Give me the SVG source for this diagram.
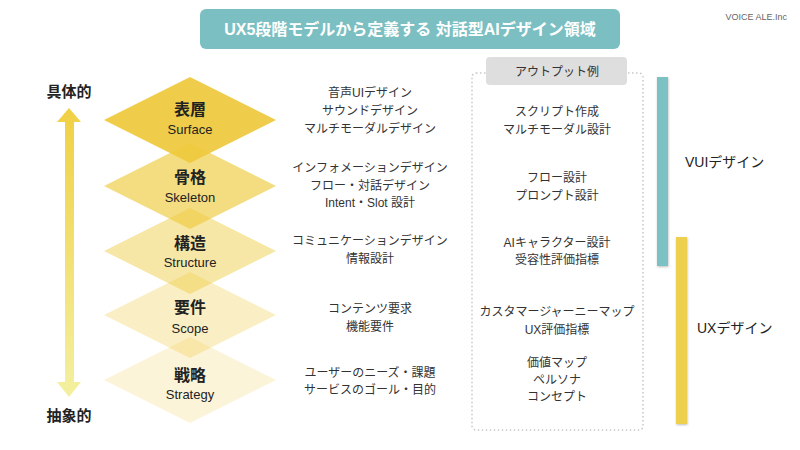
<svg xmlns="http://www.w3.org/2000/svg" width="800" height="450" viewBox="0 0 800 450">
<style>
text{font-family:"Liberation Sans","Noto Sans CJK JP",sans-serif;dominant-baseline:central;text-anchor:middle;fill:#222}
.title{font-size:16px;font-weight:bold;fill:#fff}
.lvl{font-size:16px;font-weight:bold}
.sub{font-size:13px;fill:#222}
.mid{font-size:12px;fill:#333}
.axis{font-size:15px;font-weight:bold}
.side{font-size:14px;text-anchor:start}
.dia{fill:#eec93c}
</style>
<defs>
<linearGradient id="ag" x1="0" y1="0" x2="0" y2="1">
<stop offset="0" stop-color="#f0d044"/>
<stop offset="1" stop-color="#f4f0a0"/>
</linearGradient>
<filter id="sh" x="-50%" y="-5%" width="200%" height="110%">
<feDropShadow dx="0.5" dy="1" stdDeviation="0.8" flood-color="#000" flood-opacity="0.25"/>
</filter>
</defs>
<rect width="800" height="450" fill="#fff"/>
<g id="title">
<rect x="200" y="9" width="420" height="40" rx="6" fill="#7bbfc2"/>
<text class="title" x="410" y="29">UX5段階モデルから定義する 対話型AIデザイン領域</text>
</g>
<text x="787" y="17" style="font-size:9px;fill:#666;text-anchor:end">VOICE ALE.Inc</text>
<g id="axis">
<polygon points="69,108 81,122 74,122 74,382 81,382 69,397 57,382 65,382 65,122 57,122" fill="url(#ag)"/>
<text class="axis" x="69" y="91">具体的</text>
<text class="axis" x="69" y="415">抽象的</text>
</g>
<g id="strategy">
<polygon class="dia" opacity="0.2" points="190,337 276,380 190,423 104,380"/>
<text class="lvl" x="190" y="375">戦略</text>
<text class="sub" x="190" y="394">Strategy</text>
</g>
<g id="scope">
<polygon class="dia" opacity="0.3" points="190,272 276,315 190,358 104,315"/>
<text class="lvl" x="190" y="307">要件</text>
<text class="sub" x="190" y="328">Scope</text>
</g>
<g id="structure">
<polygon class="dia" opacity="0.45" points="190,208 276,251 190,294 104,251"/>
<text class="lvl" x="190" y="243">構造</text>
<text class="sub" x="190" y="262">Structure</text>
</g>
<g id="skeleton">
<polygon class="dia" opacity="0.65" points="190,143 276,186 190,229 104,186"/>
<text class="lvl" x="190" y="177">骨格</text>
<text class="sub" x="190" y="197">Skeleton</text>
</g>
<g id="surface">
<polygon class="dia" opacity="0.92" points="190,77 276,120 190,163 104,120"/>
<text class="lvl" x="190" y="109">表層</text>
<text class="sub" x="190" y="129">Surface</text>
</g>
<g id="activities">
<text class="mid" x="370" y="93">音声UIデザイン</text>
<text class="mid" x="370" y="111">サウンドデザイン</text>
<text class="mid" x="370" y="129">マルチモーダルデザイン</text>
<text class="mid" x="370" y="168">インフォメーションデザイン</text>
<text class="mid" x="370" y="186">フロー・対話デザイン</text>
<text class="mid" x="370" y="203">Intent・Slot 設計</text>
<text class="mid" x="370" y="241">コミュニケーションデザイン</text>
<text class="mid" x="370" y="259">情報設計</text>
<text class="mid" x="370" y="309">コンテンツ要求</text>
<text class="mid" x="370" y="327">機能要件</text>
<text class="mid" x="370" y="373">ユーザーのニーズ・課題</text>
<text class="mid" x="370" y="390">サービスのゴール・目的</text>
</g>
<g id="outputs">
<rect x="472" y="73" width="171" height="357" rx="4" fill="none" stroke="#c8c8c8" stroke-width="1.5" stroke-dasharray="1.5 2.5"/>
<rect x="486" y="57" width="141" height="28" rx="4" fill="#dedede"/>
<text class="mid" x="557" y="72">アウトプット例</text>
<text class="mid" x="557" y="112">スクリプト作成</text>
<text class="mid" x="557" y="130">マルチモーダル設計</text>
<text class="mid" x="557" y="178">フロー設計</text>
<text class="mid" x="557" y="196">プロンプト設計</text>
<text class="mid" x="557" y="243">AIキャラクター設計</text>
<text class="mid" x="557" y="260">受容性評価指標</text>
<text class="mid" x="557" y="312">カスタマージャーニーマップ</text>
<text class="mid" x="557" y="330">UX評価指標</text>
<text class="mid" x="557" y="363">価値マップ</text>
<text class="mid" x="557" y="380">ペルソナ</text>
<text class="mid" x="557" y="397">コンセプト</text>
</g>
<g id="vui">
<rect x="657" y="77" width="11" height="189" fill="#7cc1c4" filter="url(#sh)"/>
<text class="side" x="685" y="162">VUIデザイン</text>
</g>
<g id="ux">
<rect x="676" y="237" width="11" height="187" fill="#eed050" filter="url(#sh)"/>
<text class="side" x="697" y="328">UXデザイン</text>
</g>
</svg>
